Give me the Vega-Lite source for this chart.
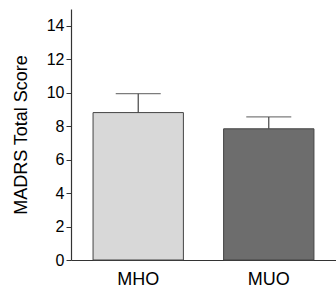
{
  "$schema": "https://vega.github.io/schema/vega-lite/v6.json",
  "width": 265,
  "height": 251,
  "autosize": {"type": "none"},
  "padding": {"left": 71, "top": 9, "right": 0, "bottom": 27},
  "background": "white",
  "config": {
    "view": {"stroke": null},
    "font": "Liberation Sans",
    "axisY": {"values": [0, 2, 4, 6, 8, 10, 12, 14], "labelOverlap": false, "labelFlush": false, "labelFontSize": 16, "labelColor": "#000", "tickSize": 5, "tickColor": "#333", "domainColor": "#333", "domainWidth": 1.2, "labelPadding": 2, "grid": false, "titleFontSize": 18, "titleFontWeight": "normal", "titleColor": "#000", "titlePadding": 16}
  },
  "data": {"values": [
    {"group": "MHO", "mean": 8.81, "upper": 9.94},
    {"group": "MUO", "mean": 7.84, "upper": 8.55}
  ]},
  "encoding": {
    "x": {"field": "group", "type": "nominal", "sort": null,
      "scale": {"paddingInner": 0.308, "paddingOuter": 0.169},
      "axis": {"title": null, "labelAngle": 0, "labelFontSize": 18, "labelColor": "#000", "ticks": false, "labelPadding": 10, "domainColor": "#333", "domainWidth": 1.2, "grid": false}}
  },
  "layer": [
    {
      "mark": {"type": "bar", "stroke": "#444", "strokeWidth": 1},
      "encoding": {
        "y": {"field": "mean", "type": "quantitative",
          "scale": {"domain": [0, 15], "nice": false},
          "axis": {"title": "MADRS Total Score"}},
        "color": {"field": "group", "type": "nominal", "scale": {"domain": ["MHO", "MUO"], "range": ["#d8d8d8", "#6d6d6d"]}, "legend": null}
      }
    },
    {
      "mark": {"type": "rule", "color": "#444", "strokeWidth": 1.2},
      "encoding": {
        "y": {"field": "mean", "type": "quantitative", "axis": {"title": "MADRS Total Score"}},
        "y2": {"field": "upper"}
      }
    },
    {
      "mark": {"type": "tick", "color": "#444", "size": 45, "thickness": 1.2},
      "encoding": {
        "y": {"field": "upper", "type": "quantitative", "axis": {"title": "MADRS Total Score"}}
      }
    }
  ]
}
